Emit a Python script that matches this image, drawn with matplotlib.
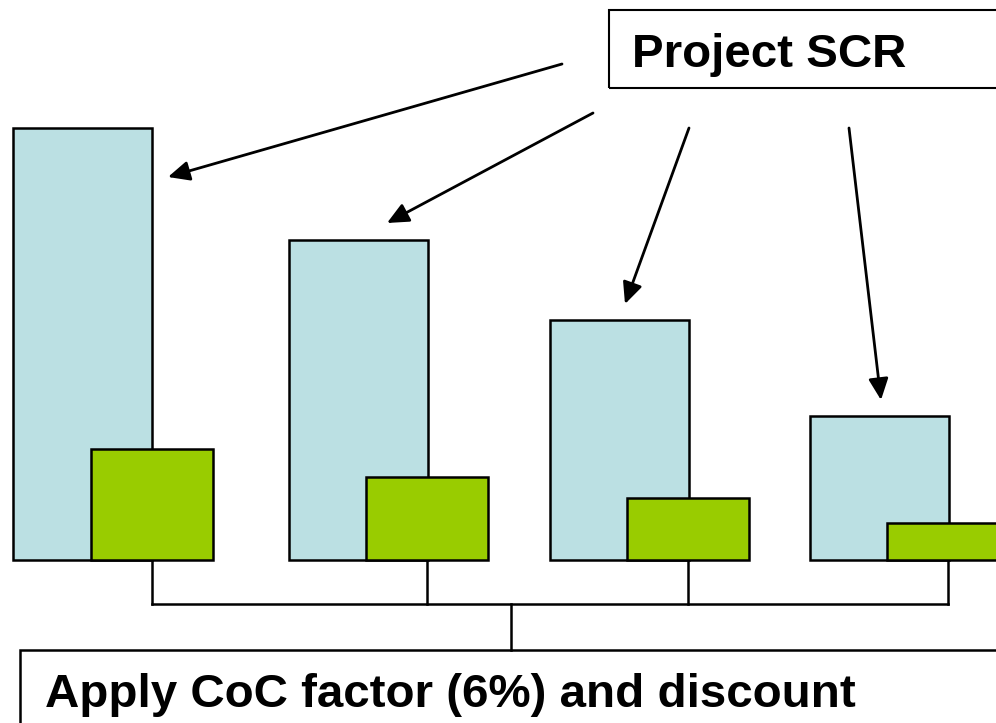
import matplotlib
matplotlib.use("Agg")
import matplotlib.pyplot as plt
from matplotlib.patches import Rectangle, FancyArrowPatch

# Data: projected SCR per period and the cost-of-capital charge on it
periods = ["t=1", "t=2", "t=3", "t=4"]
scr_values = [432, 320, 240, 144]
coc_values = [111, 83, 62, 37]

top_label = "Project SCR"
bottom_label = "Apply CoC factor (6%) and discount"

# Layout (canvas in pixel-like units, bars stand on the baseline y=0)
W, H = 996, 723
BASE = 560                       # baseline distance from the top edge
bar_centres = [82.5, 358, 619, 879]
scr_width, coc_width = 139, 122
coc_shift = 69

def y_of(py):
    """Convert a distance from the top edge into axis y units."""
    return BASE - py

fig = plt.figure(figsize=(W / 100, H / 100), dpi=100)
ax = fig.add_axes([0, 0, 1, 1])
ax.set_xlim(0, W)
ax.set_ylim(BASE - H, BASE)
ax.axis("off")

edge_kw = dict(edgecolor="black", linewidth=1.8)
ax.bar(bar_centres, scr_values, width=scr_width, color="#BBE0E3", zorder=2, **edge_kw)
coc_centres = [c + coc_shift for c in bar_centres]
ax.bar(coc_centres, coc_values, width=coc_width, color="#99CC00", zorder=3, **edge_kw)

# Arrows from the "Project SCR" label down to each SCR bar
arrow_starts = [(562, 64), (593, 113), (689, 128), (849, 128)]
arrow_tips = [(168, 177), (387, 223), (625, 304), (881, 400)]
for (x0, p0), (x1, p1) in zip(arrow_starts, arrow_tips):
    ax.add_patch(FancyArrowPatch(
        (x0, y_of(p0)), (x1, y_of(p1)),
        arrowstyle="-|>,head_length=0.65,head_width=0.3",
        mutation_scale=20, color="black", linewidth=2.0,
        shrinkA=0, shrinkB=0, zorder=4))

# Bracket joining the CoC bars to the lower label
line_kw = dict(color="black", linewidth=1.8, solid_capstyle="projecting", zorder=1)
bracket_y = y_of(604)
for cx in coc_centres:
    ax.plot([cx, cx], [0, bracket_y], **line_kw)
ax.plot([coc_centres[0], coc_centres[-1]], [bracket_y, bracket_y], **line_kw)
ax.plot([511, 511], [bracket_y, y_of(650)], **line_kw)

# Label boxes (both run past the right edge of the canvas)
ax.add_patch(Rectangle((609, y_of(88)), 500, 78.5, fill=False,
                       edgecolor="black", linewidth=1.5, zorder=4))
ax.add_patch(Rectangle((20, y_of(800)), 1100, 150, fill=False,
                       edgecolor="black", linewidth=1.8, zorder=4))

font = dict(family=["Liberation Sans", "DejaVu Sans"], fontweight="bold",
            fontsize=34.2, color="black")
ax.text(632, y_of(67), top_label, ha="left", va="baseline", **font)
ax.text(45, y_of(707), bottom_label, ha="left", va="baseline", **font)

fig.savefig("out.png", dpi=100)
